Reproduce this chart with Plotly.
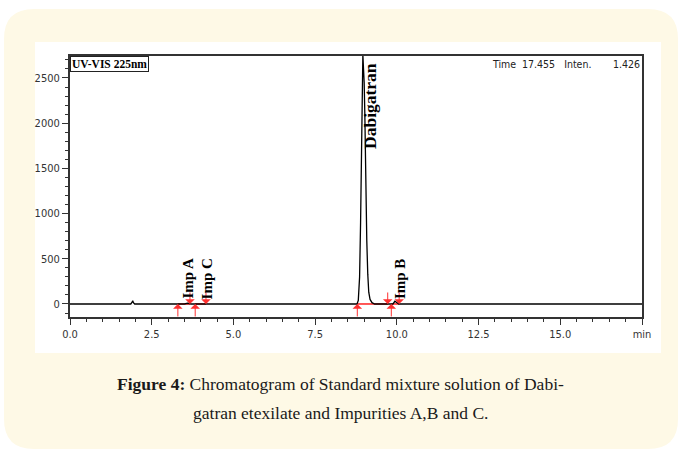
import plotly.graph_objects as go

# ---------------- data ----------------
time_min = [0.0, 1.86, 1.90, 1.92, 1.94, 1.98,
            3.50, 3.60, 3.70, 4.05, 4.12, 4.20,
            8.78, 8.82, 8.86, 8.89, 8.92, 8.94, 8.96, 8.98, 9.00, 9.02, 9.05,
            9.08, 9.11, 9.14, 9.18, 9.24, 9.32,
            9.88, 9.94, 10.00, 10.06, 17.5]
intensity = [0, 0, 20, 35, 15, 0,
             0, 8, 0, 0, 6, 0,
             0, 40, 300, 900, 1700, 2300, 2760, 2600, 2450, 2100, 1300,
             700, 330, 130, 50, 15, 0,
             0, 30, 10, 0, 0]

peak_names = ["Imp A", "Imp C", "Dabigatran", "Imp B"]
peak_label_time = [3.61, 4.22, 9.18, 10.10]
peak_label_base = [0, 0, 1660, 0]
peak_label_size = [15, 15, 17.5, 15]
integ_start = [3.30, 3.83, 8.79, 9.83]
integ_end = [3.67, 4.16, 9.72, 10.07]

x_tick_vals = [0, 2.5, 5.0, 7.5, 10.0, 12.5, 15.0, 17.5]
x_tick_text = ["0.0", "2.5", "5.0", "7.5", "10.0", "12.5", "15.0", "min"]
y_tick_vals = [0, 500, 1000, 1500, 2000, 2500]

detector_label = "UV-VIS 225nm"
cursor_time = "17.455"
cursor_inten = "1.426"
caption_line1 = "<b>Figure 4:</b> Chromatogram of Standard mixture solution of Dabi-"
caption_line2 = "gatran etexilate and Impurities A,B and C."

# ---------------- layout geometry ----------------
W, H = 681, 452
L, R, T, B = 70, 642, 56, 317
PW, PH = R - L, B - T


def px(x):
    return (x - L) / PW


def py(y):
    return 1 - (y - T) / PH


def rounded_path(x0, y0, x1, y1, r):
    a, b, c, d = px(x0), px(x1), py(y0), py(y1)
    ax_ = px(x0 + r) - px(x0)
    ay_ = py(y0) - py(y0 + r)
    return (f"M {a+ax_},{c} L {b-ax_},{c} Q {b},{c} {b},{c-ay_} "
            f"L {b},{d+ay_} Q {b},{d} {b-ax_},{d} L {a+ax_},{d} "
            f"Q {a},{d} {a},{d+ay_} L {a},{c-ay_} Q {a},{c} {a+ax_},{c} Z")


fig = go.Figure()

# integration baselines (red)
for s, e in zip(integ_start, integ_end):
    fig.add_trace(go.Scatter(x=[s, e], y=[0, 0], mode="lines",
                             line=dict(color="#ff2020", width=1.5),
                             hoverinfo="skip", showlegend=False))

# chromatogram
fig.add_trace(go.Scatter(x=time_min, y=intensity, mode="lines",
                         line=dict(color="black", width=1.3),
                         showlegend=False))

annotations = []
# integration arrows
for s, e in zip(integ_start, integ_end):
    annotations.append(dict(x=s, y=0, xref="x", yref="y", text="", showarrow=True,
                            ax=0, ay=14, arrowcolor="#ff3030", arrowwidth=1,
                            arrowhead=1, arrowsize=1.6))
    annotations.append(dict(x=e, y=0, xref="x", yref="y", text="", showarrow=True,
                            ax=0, ay=-13, arrowcolor="#ff3030", arrowwidth=1,
                            arrowhead=1, arrowsize=1.6))

# peak labels
for name, t, yb, fs in zip(peak_names, peak_label_time, peak_label_base, peak_label_size):
    annotations.append(dict(x=t, y=yb, xref="x", yref="y", text=f"<b>{name}</b>",
                            showarrow=False, textangle=-90, xanchor="center",
                            yanchor="bottom", yshift=3,
                            font=dict(family="Liberation Serif", size=fs, color="black")))

# detector box
annotations.append(dict(x=0, y=1, xref="paper", yref="paper", text=f"<b>{detector_label}</b>",
                        showarrow=False, xanchor="left", yanchor="top",
                        bordercolor="#222", borderwidth=1, borderpad=1, bgcolor="white",
                        font=dict(family="Liberation Serif", size=11.5, color="black")))

# cursor info
narrow = "DejaVu Sans Condensed, Liberation Sans Narrow, Liberation Sans"
annotations.append(dict(x=px(490), y=py(64), xref="paper", yref="paper",
                        text=f"Time  {cursor_time}   Inten.", showarrow=False,
                        xanchor="left", yanchor="middle",
                        font=dict(family=narrow, size=10.5, color="#222")))
annotations.append(dict(x=1, y=py(64), xref="paper", yref="paper",
                        text=cursor_inten, showarrow=False,
                        xanchor="right", yanchor="middle",
                        font=dict(family=narrow, size=10.5, color="#222")))

# caption
annotations.append(dict(x=px(340), y=py(384), xref="paper", yref="paper",
                        text=caption_line1, showarrow=False, xanchor="center",
                        yanchor="middle",
                        font=dict(family="Liberation Serif", size=17.5, color="#1a1a1a")))
annotations.append(dict(x=px(340), y=py(413), xref="paper", yref="paper",
                        text=caption_line2, showarrow=False, xanchor="center",
                        yanchor="middle",
                        font=dict(family="Liberation Serif", size=17.5, color="#1a1a1a")))

shapes = [
    dict(type="path", xref="paper", yref="paper", layer="below",
         path=rounded_path(4, 9, 678, 449, 30),
         fillcolor="#FEF9E6", line=dict(width=0)),
    dict(type="rect", xref="paper", yref="paper", layer="below",
         x0=px(35), x1=px(661), y0=py(42), y1=py(353),
         fillcolor="white", line=dict(width=0)),
]

fig.update_layout(
    width=W, height=H,
    margin=dict(l=L, r=W - R, t=T, b=H - B),
    paper_bgcolor="white", plot_bgcolor="rgba(0,0,0,0)",
    showlegend=False,
    annotations=annotations, shapes=shapes,
    xaxis=dict(range=[0, 17.5], tickmode="array", tickvals=x_tick_vals,
               ticktext=x_tick_text, ticks="outside", ticklen=6, tickwidth=1,
               tickcolor="#333", showline=True, linecolor="#333", linewidth=2,
               mirror=True, showgrid=False, zeroline=False,
               tickfont=dict(family=narrow, size=11, color="#333"),
               minor=dict(tickmode="linear", tick0=0, dtick=0.5, ticks="outside",
                          ticklen=3, tickcolor="#333", showgrid=False)),
    yaxis=dict(range=[-144, 2743], tickmode="array", tickvals=y_tick_vals,
               ticks="outside", ticklen=6, tickwidth=1, tickcolor="#333",
               showline=True, linecolor="#333", linewidth=2, mirror=True,
               showgrid=False, zeroline=False,
               tickfont=dict(family=narrow, size=11, color="#333"),
               minor=dict(tickmode="linear", tick0=0, dtick=100, ticks="outside",
                          ticklen=3, tickcolor="#333", showgrid=False)),
)

fig.write_html("out.html")
